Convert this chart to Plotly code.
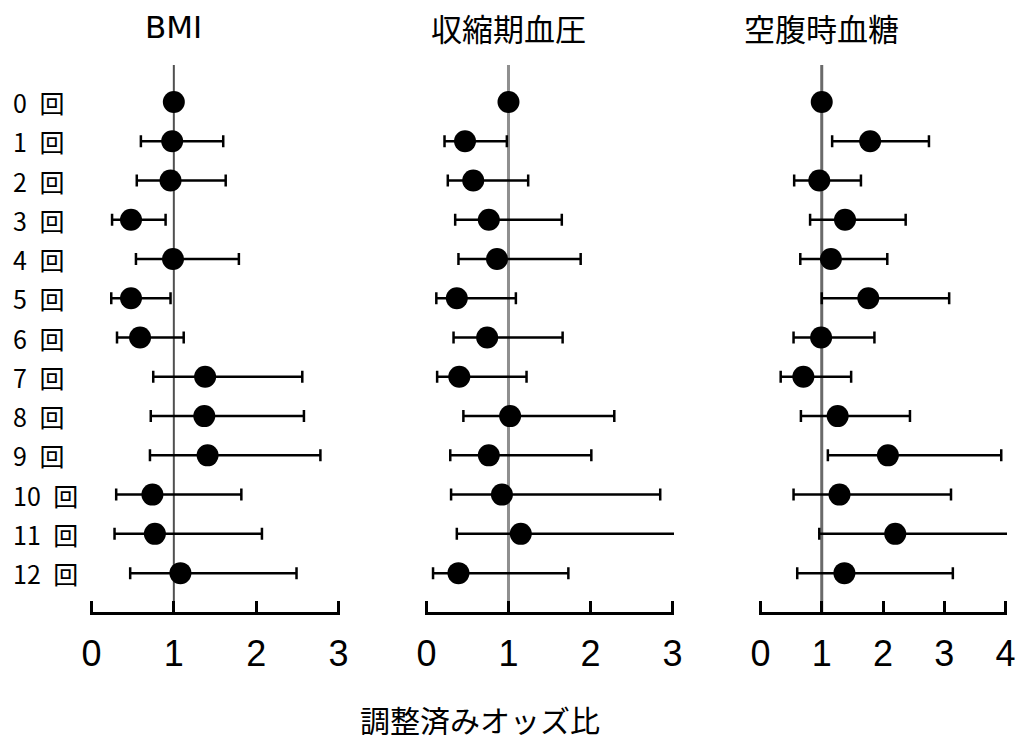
import plotly.graph_objects as go

# ---- data ----
row_labels = ["0 回", "1 回", "2 回", "3 回", "4 回", "5 回", "6 回",
              "7 回", "8 回", "9 回", "10 回", "11 回", "12 回"]
rows = list(range(len(row_labels)))

panel_titles = ["BMI", "収縮期血圧", "空腹時血糖"]

bmi_or    = [1.00, 0.98, 0.96, 0.48, 0.99, 0.48, 0.59, 1.38, 1.37, 1.41, 0.74, 0.77, 1.08]
bmi_lo    = [None, 0.60, 0.55, 0.25, 0.54, 0.24, 0.31, 0.75, 0.72, 0.71, 0.30, 0.28, 0.47]
bmi_hi    = [None, 1.60, 1.63, 0.90, 1.79, 0.96, 1.12, 2.56, 2.58, 2.78, 1.82, 2.07, 2.49]

sbp_or    = [1.00, 0.47, 0.57, 0.76, 0.86, 0.37, 0.74, 0.40, 1.02, 0.76, 0.92, 1.15, 0.39]
sbp_lo    = [None, 0.22, 0.26, 0.35, 0.39, 0.12, 0.33, 0.13, 0.45, 0.29, 0.30, 0.37, 0.08]
sbp_hi    = [None, 0.98, 1.24, 1.65, 1.88, 1.09, 1.66, 1.22, 2.29, 2.01, 2.85, 3.30, 1.73]

fpg_or    = [1.00, 1.79, 0.96, 1.38, 1.15, 1.76, 0.99, 0.70, 1.26, 2.08, 1.29, 2.20, 1.37]
fpg_lo    = [None, 1.17, 0.55, 0.81, 0.65, 1.00, 0.54, 0.33, 0.66, 1.10, 0.54, 0.96, 0.60]
fpg_hi    = [None, 2.75, 1.64, 2.37, 2.07, 3.08, 1.86, 1.48, 2.44, 3.93, 3.11, 4.40, 3.14]

x_ticks = [[0, 1, 2, 3], [0, 1, 2, 3], [0, 1, 2, 3, 4]]
x_max = [3, 3, 4]
x_label = "調整済みオッズ比"

# ---- layout helpers ----
W, H = 1026, 735
OFF = 8  # page body offset


def px(p):
    return (p - OFF) / W


def py(p):
    return 1 - (p - OFF) / H


eps = 0.006
x_domains = [[px(90), px(340)], [px(425), px(674)], [px(759), px(1007)]]
y_domain = [py(612), py(65)]
ref_colors = ["#505050", "#8f8f8f", "#6a6a6a"]
ref_widths = [2, 3, 3]
title_fonts = [("DejaVu Sans", 31), ("Noto Sans CJK JP", 31), ("Noto Sans CJK JP", 31)]

series = [(bmi_or, bmi_lo, bmi_hi), (sbp_or, sbp_lo, sbp_hi), (fpg_or, fpg_lo, fpg_hi)]

fig = go.Figure()
for i, (pt, lo, hi) in enumerate(series):
    plus = [None if h is None else h - p for p, h in zip(pt, hi)]
    minus = [None if l is None else p - l for p, l in zip(pt, lo)]
    sfx = "" if i == 0 else str(i + 1)
    fig.add_trace(go.Scatter(
        x=pt, y=rows, mode="markers",
        marker=dict(color="black", size=22),
        error_x=dict(type="data", symmetric=False, array=plus, arrayminus=minus,
                     color="black", thickness=2.5, width=6),
        xaxis="x" + sfx, yaxis="y" + sfx, showlegend=False, hoverinfo="skip",
    ))

y_range = [12.99, -0.943]
axis_common = dict(showline=True, linecolor="black", linewidth=2.5, ticks="inside",
                   ticklen=11, tickwidth=2.5, tickcolor="black", showgrid=False,
                   zeroline=False, mirror=False, automargin=False,
                   tickfont=dict(family="Liberation Sans, Arial", size=36, color="black"),
                   ticklabelstandoff=8)
layout = dict(width=W, height=H, margin=dict(l=0, r=0, t=0, b=0, pad=0, autoexpand=False),
              plot_bgcolor="white", paper_bgcolor="white", showlegend=False,
              template="none")
shapes = []
annotations = []
for i in range(3):
    sfx = "" if i == 0 else str(i + 1)
    span = x_max[i]
    layout["xaxis" + sfx] = dict(domain=x_domains[i],
                                 range=[-eps * span, span * (1 + eps)],
                                 tickvals=x_ticks[i], anchor="y" + sfx, **axis_common)
    layout["yaxis" + sfx] = dict(domain=y_domain, range=y_range, visible=False,
                                 anchor="x" + sfx, automargin=False)
    shapes.append(dict(type="line", xref="x" + sfx, yref="y" + sfx + " domain",
                       x0=1, x1=1, y0=0, y1=1, layer="below",
                       line=dict(color=ref_colors[i], width=ref_widths[i])))
    fam, sz = title_fonts[i]
    annotations.append(dict(text=panel_titles[i], xref="x" + sfx, yref="paper",
                            x=1, y=py(27), xanchor="center", yanchor="middle",
                            showarrow=False,
                            font=dict(family=fam, size=sz, color="black")))

for r, lab in zip(rows, row_labels):
    annotations.append(dict(text=lab.replace(" ", "\u2002"), xref="paper", yref="y",
                            x=px(11), y=r, xanchor="left", yanchor="middle",
                            showarrow=False,
                            font=dict(family="Noto Sans CJK JP", size=25, color="black")))

annotations.append(dict(text=x_label, xref="paper", yref="paper", x=px(480), y=py(719),
                        xanchor="center", yanchor="middle", showarrow=False,
                        font=dict(family="Noto Sans CJK JP", size=30, color="black")))

layout["shapes"] = shapes
layout["annotations"] = annotations
fig.update_layout(**layout)
fig.write_html("out.html")
